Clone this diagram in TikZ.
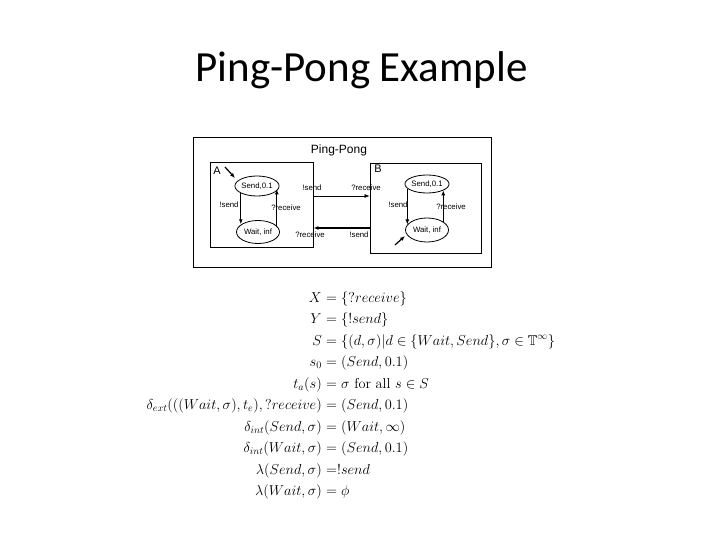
\documentclass[tikz,border=0pt]{standalone}
\usepackage{amsmath,amssymb}
\usepackage{fontspec}
\newfontfamily\titlefont{Carlito}
\newfontfamily\diafont{Liberation Sans}
\usetikzlibrary{arrows.meta,shapes.geometric}
\begin{document}
\begin{tikzpicture}[x=1pt,y=-1pt,
  box/.style={draw, line width=0.9pt, inner sep=0pt},
  state/.style={draw, ellipse, line width=0.8pt, minimum width=41pt, minimum height=20pt, inner sep=0pt, font=\diafont\fontsize{7.8}{8}\selectfont},
  lbl/.style={font=\diafont\fontsize{7.8}{8}\selectfont, inner sep=0pt},
  trans/.style={-{Latex[length=5pt,width=4pt]}, line width=1.2pt},
  thintrans/.style={-{Latex[length=5pt,width=4pt]}, line width=0.6pt},
  lhs/.style={anchor=base east, inner sep=0pt, font=\fontsize{14.3}{16}\selectfont},
  rhs/.style={anchor=base west, inner sep=0pt, font=\fontsize{14.3}{16}\selectfont}
]
\useasboundingbox (0,0) rectangle (720,540);
\node[anchor=base, inner sep=0pt, font=\titlefont\fontsize{43}{50}\selectfont] (title) at (361.5,82) {Ping-Pong Example};

% diagram
\node[box, line width=0.7pt, minimum width=298pt, minimum height=130pt] (outer) at (342,202) {};
\node[box, minimum width=103pt, minimum height=85pt] (boxA) at (261.5,204.5) {};
\node[box, minimum width=111pt, minimum height=90pt] (boxB) at (425.5,208) {};
\node[inner sep=0pt, font=\diafont\fontsize{12}{14}\selectfont] (pp) at (339,150) {Ping-Pong};
\node[inner sep=0pt, font=\diafont\fontsize{11}{13}\selectfont] (la) at (217,171) {A};
\node[inner sep=0pt, font=\diafont\fontsize{11}{13}\selectfont] (lb) at (378,169) {B};

\node[state] (aS) at (257,186) {Send,0.1};
\node[state, minimum width=43pt, minimum height=23pt] (aW) at (258,232) {Wait, inf};
\node[state, minimum width=43pt, minimum height=18pt] (bS) at (427,184) {Send,0.1};
\node[state, minimum width=43pt, minimum height=24pt] (bW) at (427,230) {Wait, inf};

% A internal transitions
\draw[trans] (aS.-156) -- (aS.-156 |- aW.155);
\node[lbl] (lA1) at (229,205) {!send};
\draw[trans] (aW.18) -- (aW.18 |- aS.-9);
\node[lbl] (lA2) at (286,208) {?receive};

% B internal transitions
\draw[thintrans, line width=0.8pt] (bS.-167) -- (bS.-167 |- bW.164);
\node[lbl] (lB1) at (398,205) {!send};
\draw[trans] (bW.27) -- (bW.27 |- bS.-21);
\node[lbl] (lB2) at (451,207) {?receive};

% initial arrows
\coordinate (ai0) at (225,167);
\coordinate (ai1) at (235,178);
\draw[trans] (ai0) -- (ai1);
\coordinate (bi0) at (395,245);
\coordinate (bi1) at (405,236);
\draw[trans] (bi0) -- (bi1);

% coupling
\draw[thintrans] ([yshift=8.5pt]boxA.east) -- ([yshift=8.5pt]boxA.east -| boxB.west);
\node[lbl] (c1) at (312,188) {!send};
\node[lbl] (c2) at (366,188) {?receive};
\draw[trans] ([yshift=-23.5pt]boxA.east -| boxB.west) -- ([yshift=-23.5pt]boxA.east);
\node[lbl] (c3) at (310,235) {?receive};
\node[lbl] (c4) at (359,235) {!send};

% equations
\node[lhs] (l1) at (322,302) {$X$};
\node[rhs] (r1) at (322,302) {${}=\{?receive\}$};
\node[lhs] (l2) at (322,323.5) {$Y$};
\node[rhs] (r2) at (322,323.5) {${}=\{!send\}$};
\node[lhs] (l3) at (322,345) {$S$};
\node[rhs] (r3) at (322,345) {${}=\{(d,\sigma)|d\in\{Wait,Send\},\sigma\in\mathbb{T}^\infty\}$};
\node[lhs] (l4) at (322,366.5) {$s_0$};
\node[rhs] (r4) at (322,366.5) {${}=(Send,0.1)$};
\node[lhs] (l5) at (322,388) {$t_a(s)$};
\node[rhs] (r5) at (322,388) {${}=\sigma\text{ for all }s\in S$};
\node[lhs] (l6) at (322,409.5) {$\delta_{ext}(((Wait,\sigma),t_e),?receive)$};
\node[rhs] (r6) at (322,409.5) {${}=(Send,0.1)$};
\node[lhs] (l7) at (322,431) {$\delta_{int}(Send,\sigma)$};
\node[rhs] (r7) at (322,431) {${}=(Wait,\infty)$};
\node[lhs] (l8) at (322,452.5) {$\delta_{int}(Wait,\sigma)$};
\node[rhs] (r8) at (322,452.5) {${}=(Send,0.1)$};
\node[lhs] (l9) at (322,474) {$\lambda(Send,\sigma)$};
\node[rhs] (r9) at (322,474) {${}=!send$};
\node[lhs] (l10) at (322,495.5) {$\lambda(Wait,\sigma)$};
\node[rhs] (r10) at (322,495.5) {${}=\phi$};
\end{tikzpicture}
\end{document}
